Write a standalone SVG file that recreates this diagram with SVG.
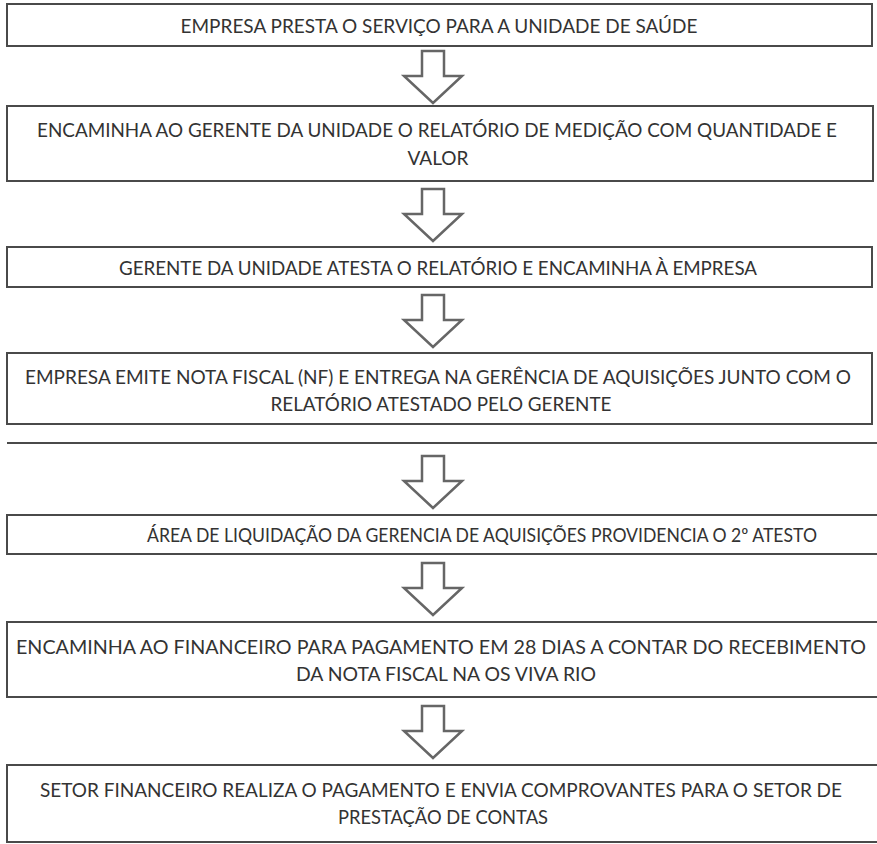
<svg xmlns="http://www.w3.org/2000/svg" width="877" height="844" viewBox="0 0 877 844">
<style>
  .box { fill: #ffffff; stroke: #4a4a4a; stroke-width: 2; }
  .edge { fill: none; stroke: #4a4a4a; stroke-width: 2; }
  .arrow { fill: #ffffff; stroke: #666666; stroke-width: 2.5; stroke-linejoin: miter; }
  .t { font-family: Lato, "Open Sans", "Liberation Sans", sans-serif; font-size: 19.5px; fill: #333333; text-anchor: middle; }
</style>
<defs>
  <path id="blockArrow" d="M -11 0 L 11 0 L 11 25 L 29 25 L 0 52 L -29 25 L -11 25 Z"/>
</defs>
<rect width="877" height="844" fill="#ffffff"/>

<g id="connectors">
  <use href="#blockArrow" class="arrow" x="433" y="51"/>
  <use href="#blockArrow" class="arrow" x="433" y="189"/>
  <use href="#blockArrow" class="arrow" x="433" y="295"/>
  <use href="#blockArrow" class="arrow" x="433" y="456"/>
  <use href="#blockArrow" class="arrow" x="433" y="563"/>
  <use href="#blockArrow" class="arrow" x="433" y="706"/>
</g>

<g id="node1">
  <rect class="box" x="7" y="4" width="865" height="42"/>
  <text class="t" x="439" y="33" textLength="517" lengthAdjust="spacingAndGlyphs">EMPRESA PRESTA O SERVIÇO PARA A UNIDADE DE SAÚDE</text>
</g>

<g id="node2">
  <rect class="box" x="7" y="106" width="866" height="75"/>
  <text class="t" x="437" y="137" textLength="800" lengthAdjust="spacingAndGlyphs">ENCAMINHA AO GERENTE DA UNIDADE O RELATÓRIO DE MEDIÇÃO COM QUANTIDADE E</text>
  <text class="t" x="438" y="165" textLength="61" lengthAdjust="spacingAndGlyphs">VALOR</text>
</g>

<g id="node3">
  <rect class="box" x="7" y="247" width="865" height="40"/>
  <text class="t" x="438" y="275" textLength="638" lengthAdjust="spacingAndGlyphs">GERENTE DA UNIDADE ATESTA O RELATÓRIO E ENCAMINHA À EMPRESA</text>
</g>

<g id="node4">
  <rect class="box" x="7" y="353" width="865" height="71"/>
  <text class="t" x="438" y="384" textLength="826" lengthAdjust="spacingAndGlyphs">EMPRESA EMITE NOTA FISCAL (NF) E ENTREGA NA GERÊNCIA DE AQUISIÇÕES JUNTO COM O</text>
  <text class="t" x="441" y="411" textLength="341" lengthAdjust="spacingAndGlyphs">RELATÓRIO ATESTADO PELO GERENTE</text>
</g>

<path class="edge" d="M 7 443 L 877 443"/>

<g id="node5">
  <path class="edge" d="M 877 515 L 7 515 L 7 554 L 877 554"/>
  <text class="t" x="482" y="542" textLength="670" lengthAdjust="spacingAndGlyphs">ÁREA DE LIQUIDAÇÃO DA GERENCIA DE AQUISIÇÕES PROVIDENCIA O 2º ATESTO</text>
</g>

<g id="node6">
  <path class="edge" d="M 877 622 L 7 622 L 7 697 L 877 697"/>
  <text class="t" x="441" y="654" textLength="850" lengthAdjust="spacingAndGlyphs">ENCAMINHA AO FINANCEIRO PARA PAGAMENTO EM 28 DIAS A CONTAR DO RECEBIMENTO</text>
  <text class="t" x="446" y="681" textLength="300" lengthAdjust="spacingAndGlyphs">DA NOTA FISCAL NA OS VIVA RIO</text>
</g>

<g id="node7">
  <path class="edge" d="M 877 765 L 7 765 L 7 842 L 877 842"/>
  <text class="t" x="441" y="797" textLength="802" lengthAdjust="spacingAndGlyphs">SETOR FINANCEIRO REALIZA O PAGAMENTO E ENVIA COMPROVANTES PARA O SETOR DE</text>
  <text class="t" x="443" y="824" textLength="210" lengthAdjust="spacingAndGlyphs">PRESTAÇÃO DE CONTAS</text>
</g>
</svg>
